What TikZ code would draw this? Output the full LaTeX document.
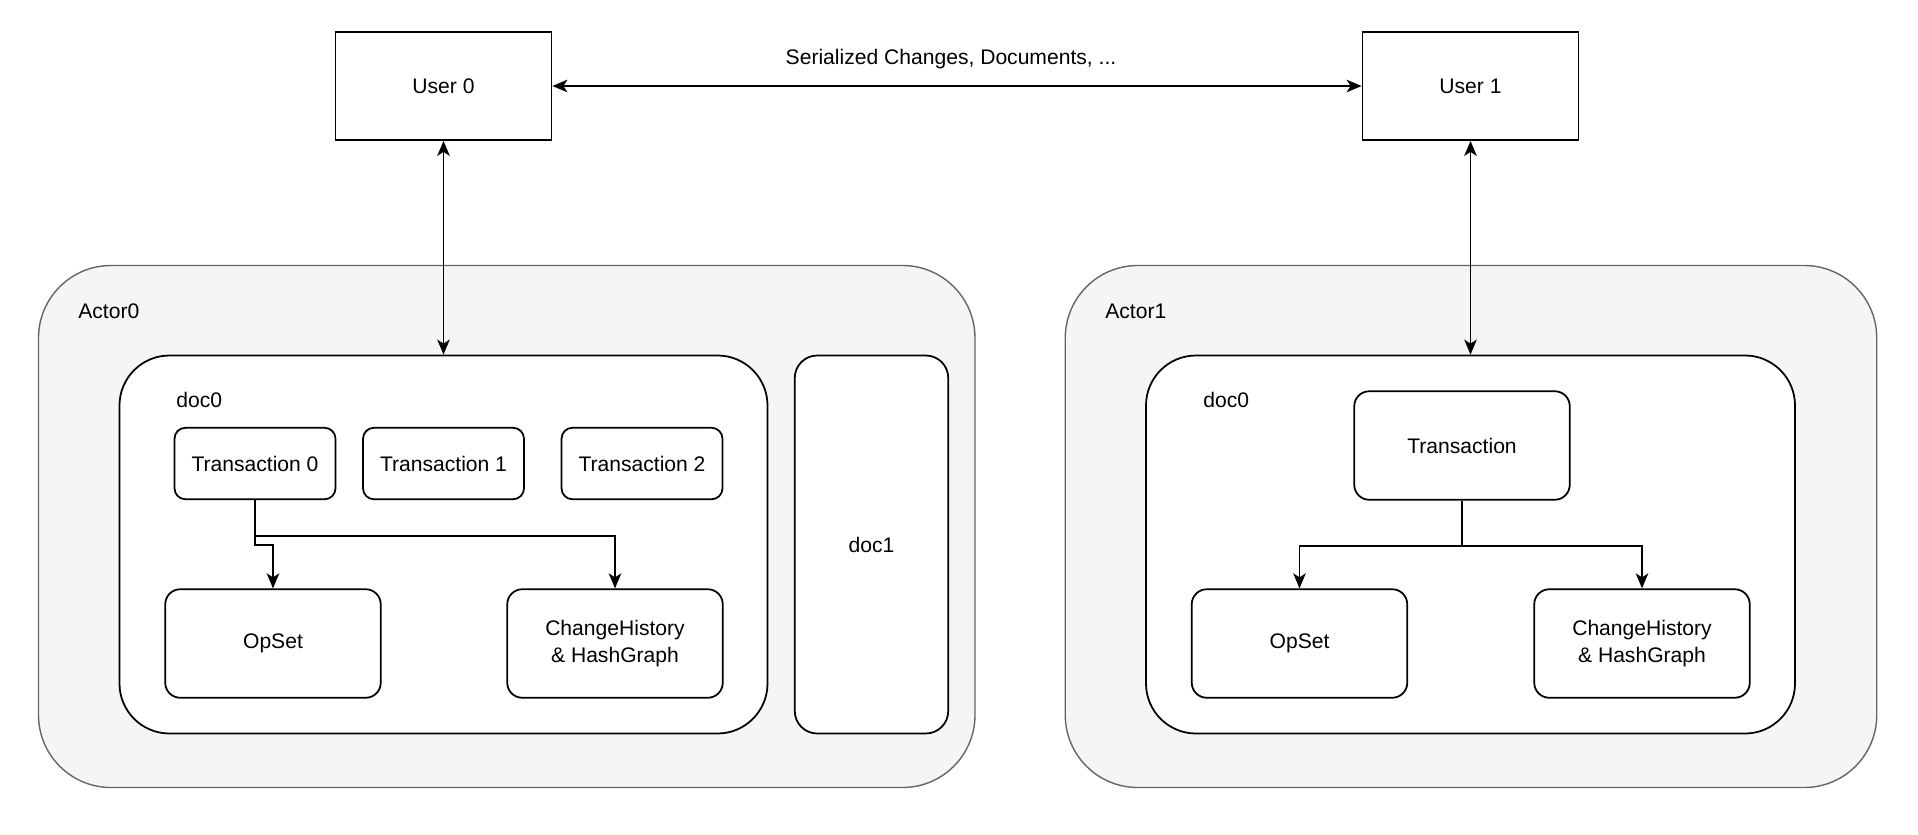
\documentclass[tikz,border=0pt]{standalone}
\usepackage{fontspec}
\setmainfont{Liberation Sans}
\usetikzlibrary{arrows.meta}
\definecolor{actorfill}{HTML}{F5F5F5}
\definecolor{actorline}{HTML}{666666}

\begin{document}
\begin{tikzpicture}[
		font=\fontsize{12}{15.2}\selectfont,
		userbox/.style={draw, line width=1pt, fill=white, minimum width=4.32cm, minimum height=2.16cm},
		actorbox/.style={draw=actorline, fill=actorfill, line width=0.8pt, rounded corners=1.45cm, minimum height=10.44cm},
		docbox/.style={draw, fill=white, line width=1pt, minimum height=7.56cm},
		txbox/.style={draw, fill=white, line width=1pt, rounded corners=0.22cm, minimum width=3.22cm, minimum height=1.43cm},
		partbox/.style={draw, fill=white, line width=1pt, rounded corners=0.3cm, minimum width=4.31cm, minimum height=2.17cm, align=center},
		lbl/.style={anchor=west, inner sep=0pt},
		tip/.tip={Stealth[length=0.3cm, width=0.25cm, inset=0.08cm]},
		link/.style={line width=1pt, -tip},
		dlink/.style={line width=1pt, tip-tip}
	]
		\useasboundingbox (0,0) rectangle (38.36,-16.68);

		% Users
		\node[userbox] (user0) at (8.87,-1.72) {User 0};
		\node[userbox] (user1) at (29.41,-1.72) {User 1};
		\draw[dlink] (user0) -- (user1);
		\node (serial) at (19.02,-1.19) {Serialized Changes, Documents, ...};

		% Actor 0
		\node[actorbox, minimum width=18.73cm] (actor0) at (10.135,-10.53) {};
		\node[lbl] (actor0lbl) at (1.56,-6.23) {Actor0};
		\node[docbox, rounded corners=1cm, minimum width=12.96cm] (doc0a) at (8.87,-10.89) {};
		\node[lbl] (doc0albl) at (3.52,-8.0) {doc0};
		\node[docbox, rounded corners=0.45cm, minimum width=3.07cm] (doc1) at (17.43,-10.89) {doc1};
		\node[txbox] (t0) at (5.10,-9.27) {Transaction 0};
		\node[txbox] (t1) at (8.87,-9.27) {Transaction 1};
		\node[txbox] (t2) at (12.84,-9.27) {Transaction 2};
		\node[partbox] (opset0) at (5.46,-12.87) {OpSet};
		\node[partbox] (hist0) at (12.30,-12.87) {ChangeHistory\\\& HashGraph};
		\draw[link] (t0.south) -- ++(0,-0.72) -| (hist0.north);
		\draw[link] (t0.south) -- ++(0,-0.9) -| (opset0.north);
		\draw[dlink] (user0) -- (doc0a);

		% Actor 1
		\node[actorbox, minimum width=16.23cm] (actor1) at (29.42,-10.53) {};
		\node[lbl] (actor1lbl) at (22.1,-6.23) {Actor1};
		\node[docbox, rounded corners=1cm, minimum width=12.98cm] (doc0b) at (29.41,-10.89) {};
		\node[lbl] (doc0blbl) at (24.06,-8.0) {doc0};
		\node[partbox] (trans1) at (29.24,-8.91) {Transaction};
		\node[partbox] (opset1) at (25.99,-12.87) {OpSet};
		\node[partbox] (hist1) at (32.84,-12.87) {ChangeHistory\\\& HashGraph};
		\draw[link] (trans1.south) -- ++(0,-0.9) -| (opset1.north);
		\draw[link] (trans1.south) -- ++(0,-0.9) -| (hist1.north);
		\draw[dlink] (user1) -- (doc0b);
\end{tikzpicture}
\end{document}
